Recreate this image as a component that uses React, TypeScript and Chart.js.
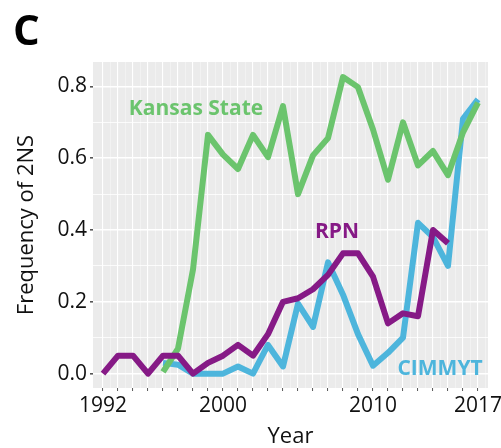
import React, { useEffect, useRef } from "react";
import { Chart, registerables } from "chart.js";

Chart.register(...registerables);

const years = [1992, 1993, 1994, 1995, 1996, 1997, 1998, 1999, 2000, 2001, 2002, 2003, 2004, 2005, 2006, 2007, 2008, 2009, 2010, 2011, 2012, 2013, 2014, 2015, 2016, 2017];
const rpn = [0.0, 0.05, 0.05, 0.0, 0.05, 0.05, 0.0, 0.03, 0.05, 0.08, 0.05, 0.11, 0.2, 0.21, 0.235, 0.275, 0.335, 0.335, 0.27, 0.14, 0.168, 0.16, 0.4, 0.363, null, null];
const kansasState = [null, null, null, null, 0.005, 0.07, 0.29, 0.665, 0.61, 0.57, 0.665, 0.603, 0.745, 0.5, 0.608, 0.656, 0.826, 0.798, 0.68, 0.54, 0.7, 0.58, 0.62, 0.553, 0.672, 0.755];
const cimmyt = [null, null, null, null, 0.03, 0.025, 0.0, 0.0, 0.0, 0.02, 0.0, 0.08, 0.02, 0.195, 0.13, 0.31, 0.22, 0.11, 0.022, 0.058, 0.1, 0.42, 0.38, 0.3, 0.71, 0.764];

const xTickLabels = [1992, 2000, 2010, 2017];
const yTickLabels = [0, 0.2, 0.4, 0.6, 0.8];
const yGridValues = [0, 0.1, 0.2, 0.3, 0.4, 0.5, 0.6, 0.7, 0.8];

const seriesNames = ["RPN", "Kansas State", "CIMMYT"];
const seriesColors = ["#861A86", "#6BC46D", "#4DB5DC"];
// annotation anchors in data coordinates: [year, value] for text baseline centre
const labelAnchors = [
  [2007.6, 0.377],
  [1998.2, 0.721],
  [2014.47, -0.004],
];

const FONT = "'Open Sans', sans-serif";

function toPoints(values: (number | null)[]) {
  const pts: { x: number; y: number }[] = [];
  values.forEach((v, i) => {
    if (v !== null) pts.push({ x: years[i], y: v });
  });
  return pts;
}

const bgPlugin = {
  id: "panelBg",
  beforeDraw(chart: any) {
    const { ctx, chartArea } = chart;
    ctx.save();
    ctx.fillStyle = "#EBEBEB";
    ctx.fillRect(chartArea.left, chartArea.top, chartArea.right - chartArea.left, chartArea.bottom - chartArea.top);
    ctx.restore();
  },
};

const labelPlugin = {
  id: "seriesLabels",
  afterDatasetsDraw(chart: any) {
    const { ctx, scales } = chart;
    ctx.save();
    ctx.font = `bold 21px ${FONT}`;
    ctx.textAlign = "center";
    ctx.textBaseline = "alphabetic";
    seriesNames.forEach((name, i) => {
      const [ax, ay] = labelAnchors[i];
      ctx.fillStyle = seriesColors[i];
      ctx.fillText(name, scales.x.getPixelForValue(ax), scales.y.getPixelForValue(ay));
    });
    ctx.restore();
  },
};

export default function App() {
  const canvasRef = useRef<HTMLCanvasElement>(null);

  useEffect(() => {
    document.body.style.margin = "0";
    const data = [rpn, kansasState, cimmyt];
    const chart = new Chart(canvasRef.current as HTMLCanvasElement, {
      type: "line",
      data: {
        datasets: data.map((vals, i) => ({
          label: seriesNames[i],
          data: toPoints(vals),
          borderColor: seriesColors[i],
          backgroundColor: seriesColors[i],
          borderWidth: 6,
          borderJoinStyle: "round",
          borderCapStyle: "butt",
          pointRadius: 0,
          tension: 0,
          fill: false,
        })),
      },
      options: {
        animation: false,
        responsive: false,
        maintainAspectRatio: false,
        layout: { padding: { top: 62, right: 13, left: 0, bottom: 0 } },
        plugins: {
          legend: { display: false },
          tooltip: { enabled: false },
          title: { display: false },
        },
        scales: {
          x: {
            type: "linear",
            min: 1991.333,
            max: 2017.667,
            border: { display: false },
            afterBuildTicks: (scale: any) => {
              const t: { value: number }[] = [];
              for (let v = 1992; v <= 2017.5; v += 0.5) t.push({ value: v });
              scale.ticks = t;
            },
            afterFit: (scale: any) => {
              scale.height = 60;
            },
            grid: {
              color: (c: any) => (Number.isInteger(c.tick?.value) ? "#FFFFFF" : "rgba(255,255,255,0.6)"),
              lineWidth: (c: any) => (Number.isInteger(c.tick?.value) ? 1.1 : 0.6),
              drawTicks: true,
              tickLength: 3,
              tickColor: (c: any) => (Number.isInteger(c.tick?.value) ? "#555555" : "rgba(0,0,0,0)"),
              tickWidth: 1,
            },
            ticks: {
              autoSkip: false,
              maxRotation: 0,
              padding: 2,
              color: "#111111",
              font: { family: FONT, size: 21 },
              callback: (v: any) => (xTickLabels.includes(Number(v)) ? String(v) : ""),
            },
            title: {
              display: true,
              text: "Year",
              color: "#111111",
              font: { family: FONT, size: 22, lineHeight: 1.0 },
              padding: { top: 0, bottom: 0 },
            },
          },
          y: {
            type: "linear",
            min: -0.04,
            max: 0.868,
            border: { display: false },
            afterBuildTicks: (scale: any) => {
              scale.ticks = yGridValues.map((v) => ({ value: v }));
            },
            afterFit: (scale: any) => {
              scale.width = 93;
            },
            grid: {
              color: "#FFFFFF",
              lineWidth: (c: any) => (yTickLabels.some((v) => Math.abs(v - c.tick?.value) < 1e-6) ? 1.6 : 0.8),
              drawTicks: true,
              tickLength: 3,
              tickColor: (c: any) => (yTickLabels.some((v) => Math.abs(v - c.tick?.value) < 1e-6) ? "#555555" : "rgba(0,0,0,0)"),
            },
            ticks: {
              padding: 3,
              color: "#111111",
              font: { family: FONT, size: 21 },
              callback: (v: any) => {
                const n = Number(v);
                return yTickLabels.some((t) => Math.abs(t - n) < 1e-6) ? n.toFixed(1) : "";
              },
            },
            title: {
              display: true,
              text: "Frequency of 2NS",
              color: "#111111",
              font: { family: FONT, size: 22, lineHeight: 1.2 },
              padding: { top: 14, bottom: 0 },
            },
          },
        },
      } as any,
      plugins: [bgPlugin, labelPlugin],
    });
    return () => chart.destroy();
  }, []);

  return (
    <div style={{ position: "relative", width: 501, height: 448 }}>
      <span
        style={{
          position: "absolute",
          left: 13,
          top: 8,
          fontFamily: FONT,
          fontWeight: 700,
          fontSize: 42,
          lineHeight: 1,
          color: "#000",
        }}
      >
        C
      </span>
      <canvas ref={canvasRef} width={501} height={448} style={{ display: "block" }} />
    </div>
  );
}
